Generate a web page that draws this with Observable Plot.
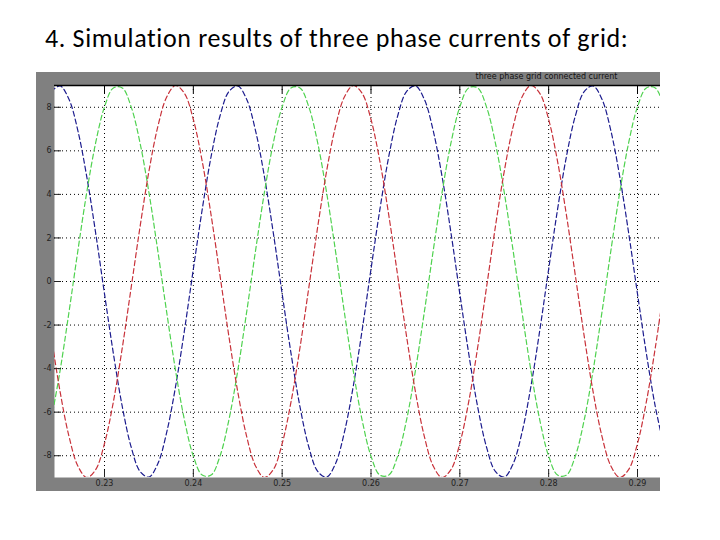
<!DOCTYPE html>
<html>
<head>
<meta charset="utf-8">
<script src="https://cdn.jsdelivr.net/npm/d3@7"></script>
<script src="https://cdn.jsdelivr.net/npm/@observablehq/plot@0.6"></script>
<style>
  body { margin: 0; background: #fff; width: 720px; height: 540px; position: relative; overflow: hidden; }
  #heading { position: absolute; left: 45px; top: 22px; font-family: Carlito, Lato, "Open Sans", sans-serif; font-size: 26px; letter-spacing: 0.65px; color: #000; white-space: nowrap; }
  #chart { position: absolute; left: 36px; top: 72px; }
</style>
</head>
<body>
<div id="heading">4. Simulation results of three phase currents of grid:</div>
<div id="chart"></div>
<script>
const chartTitle = "three phase grid connected current";
const time = [0.224,0.225,0.226,0.227,0.228,0.229,0.230,0.231,0.232,0.233,0.234,0.235,0.236,0.237,0.238,0.239,
  0.240,0.241,0.242,0.243,0.244,0.245,0.246,0.247,0.248,0.249,0.250,0.251,0.252,0.253,0.254,0.255,0.256,0.257,0.258,0.259,
  0.260,0.261,0.262,0.263,0.264,0.265,0.266,0.267,0.268,0.269,0.270,0.271,0.272,0.273,0.274,0.275,0.276,0.277,0.278,0.279,
  0.280,0.281,0.282,0.283,0.284,0.285,0.286,0.287,0.288,0.289,0.290,0.291,0.292,0.293];
const phaseBlue = [8.72,8.98,8.37,6.93,4.82,2.24,-0.57,-3.31,-5.74,-7.60,-8.72,-8.98,-8.37,-6.93,-4.82,-2.24,0.57,3.31,5.74,7.60,
  8.72,8.98,8.37,6.93,4.82,2.24,-0.57,-3.31,-5.74,-7.60,-8.72,-8.98,-8.37,-6.93,-4.82,-2.24,0.57,3.31,5.74,7.60,
  8.72,8.98,8.37,6.93,4.82,2.24,-0.57,-3.31,-5.74,-7.60,-8.72,-8.98,-8.37,-6.93,-4.82,-2.24,0.57,3.31,5.74,7.60,
  8.72,8.98,8.37,6.93,4.82,2.24,-0.57,-3.31,-5.74,-7.60];
const phaseGreen = [-6.36,-4.09,-1.41,1.41,4.09,6.36,8.02,8.89,8.89,8.02,6.36,4.09,1.41,-1.41,-4.09,-6.36,-8.02,-8.89,-8.89,-8.02,
  -6.36,-4.09,-1.41,1.41,4.09,6.36,8.02,8.89,8.89,8.02,6.36,4.09,1.41,-1.41,-4.09,-6.36,-8.02,-8.89,-8.89,-8.02,
  -6.36,-4.09,-1.41,1.41,4.09,6.36,8.02,8.89,8.89,8.02,6.36,4.09,1.41,-1.41,-4.09,-6.36,-8.02,-8.89,-8.89,-8.02,
  -6.36,-4.09,-1.41,1.41,4.09,6.36,8.02,8.89,8.89,8.02];
const phaseRed = [-2.51,-5.06,-7.11,-8.47,-9.00,-8.64,-7.44,-5.52,-3.05,-0.28,2.51,5.06,7.11,8.47,9.00,8.64,7.44,5.52,3.05,0.28,
  -2.51,-5.06,-7.11,-8.47,-9.00,-8.64,-7.44,-5.52,-3.05,-0.28,2.51,5.06,7.11,8.47,9.00,8.64,7.44,5.52,3.05,0.28,
  -2.51,-5.06,-7.11,-8.47,-9.00,-8.64,-7.44,-5.52,-3.05,-0.28,2.51,5.06,7.11,8.47,9.00,8.64,7.44,5.52,3.05,0.28,
  -2.51,-5.06,-7.11,-8.47,-9.00,-8.64,-7.44,-5.52,-3.05,-0.28];
const xTicks = [0.23,0.24,0.25,0.26,0.27,0.28,0.29];
const xTickLabels = ["0.23","0.24","0.25","0.26","0.27","0.28","0.29"];
const yTicks = [-8,-6,-4,-2,0,2,4,6,8];

const series = [
  {name: "blue", values: phaseBlue, color: "#1c1c8e"},
  {name: "green", values: phaseGreen, color: "#4fd24f"},
  {name: "red", values: phaseRed, color: "#c8323a"}
];

const lineMarks = series.map(s => Plot.line(time.map((t, i) => ({t, v: s.values[i]})), {
  x: "t", y: "v", stroke: s.color, strokeWidth: 1.2, strokeDasharray: "5,3", curve: "catmull-rom", clip: true
}));

const plot = Plot.plot({
  width: 624,
  height: 419,
  marginLeft: 18,
  marginRight: 0,
  marginTop: 13,
  marginBottom: 14,
  style: {background: "#808080", fontFamily: "DejaVu Sans, sans-serif"},
  x: {domain: [0.224371, 0.292589]},
  y: {domain: [-9, 9]},
  marks: [
    Plot.frame({fill: "white", stroke: null}),
    Plot.ruleY(yTicks, {stroke: "#000", strokeDasharray: "1,3", strokeWidth: 1}),
    Plot.ruleX(xTicks, {stroke: "#000", strokeDasharray: "1,3", strokeWidth: 1}),
    ...lineMarks,
    Plot.ruleY([9], {stroke: "#000", strokeWidth: 1.5}),
    Plot.axisY(yTicks, {anchor: "left", tickSize: -7, tickPadding: 10, tickFormat: d => String(d), fontSize: 8, color: "#222", label: null}),
    Plot.axisX(xTicks, {anchor: "bottom", tickSize: -7, tickPadding: 10, tickFormat: (d, i) => xTickLabels[i], fontSize: 8, color: "#222", label: null}),
    Plot.axisX(xTicks, {anchor: "top", tickSize: -7, tickFormat: () => "", label: null}),
    Plot.text([chartTitle], {frameAnchor: "top", dx: 189, dy: -7, lineAnchor: "bottom", fontSize: 8, fill: "#111"})
  ]
});
document.getElementById("chart").appendChild(plot);
</script>
</body>
</html>
